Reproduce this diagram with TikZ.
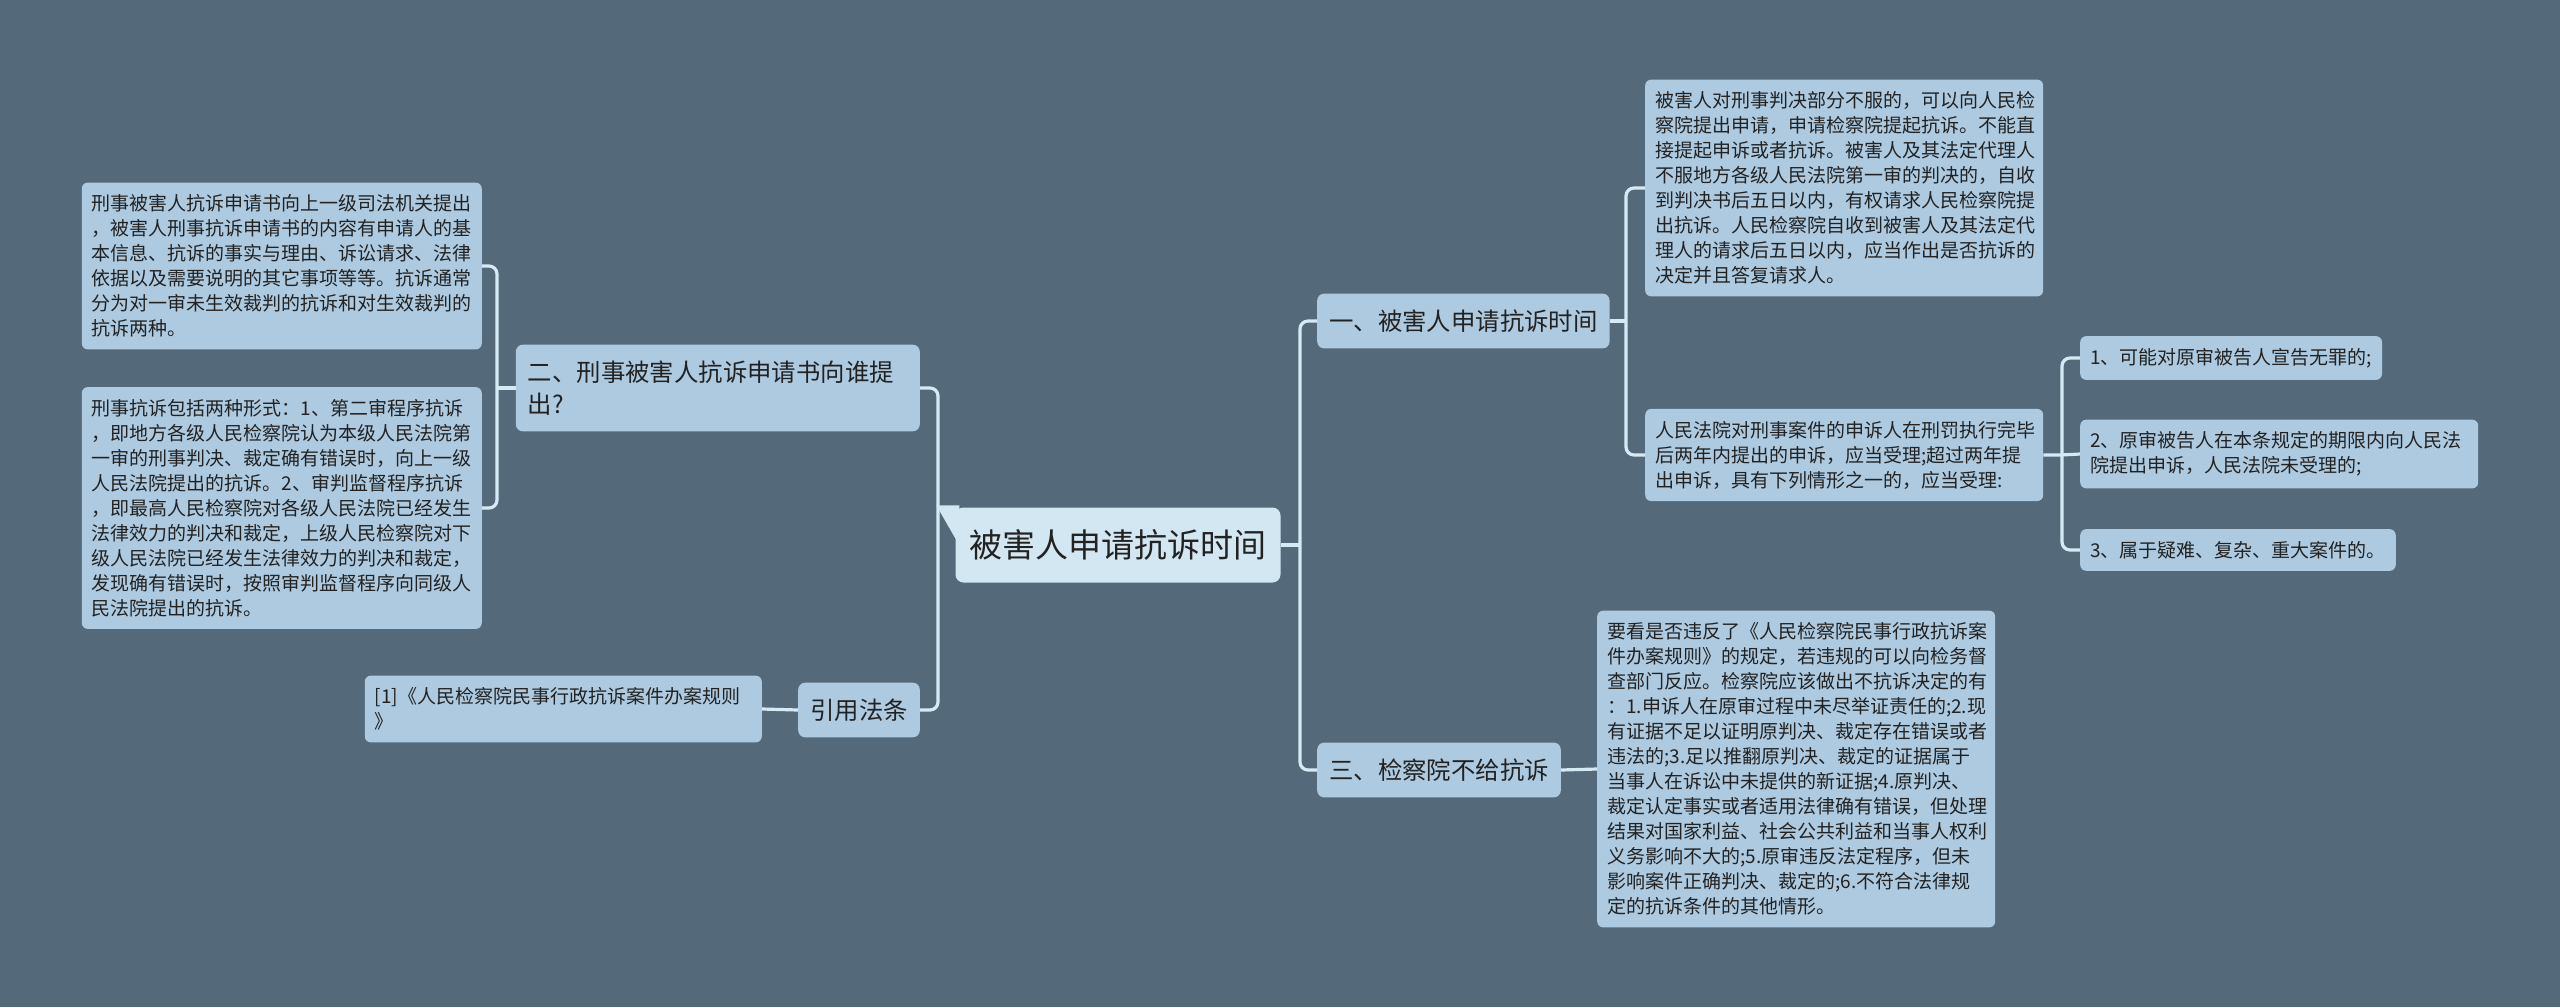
\documentclass[tikz,border=0pt]{standalone}
\usepackage{fontspec}
\setmainfont{Noto Sans CJK SC}
\usetikzlibrary{calc}
\definecolor{bgc}{HTML}{546979}
\definecolor{boxc}{HTML}{ADCAE1}
\definecolor{topc}{HTML}{D3E7F3}
\definecolor{linkc}{HTML}{D6EAF6}
\definecolor{inkc}{HTML}{222222}
\tikzset{
  topic/.style={fill=topc, text=inkc, rounded corners=8pt, inner xsep=14pt,
    minimum width=325pt, minimum height=75pt, font=\fontsize{33}{38}\selectfont},
  sub/.style={fill=boxc, text=inkc, rounded corners=7pt, inner xsep=12pt, inner ysep=16pt,
    align=left, font=\fontsize{24.4}{32}\selectfont},
  leaf/.style={fill=boxc, text=inkc, rounded corners=6pt, inner xsep=10pt, inner ysep=12pt,
    align=left, font=\fontsize{19}{25}\selectfont},
  link/.style={draw=linkc, line width=3.2pt, rounded corners=8pt},
}

\begin{document}
\begin{tikzpicture}[x=1pt, y=-1pt]
  \fill[bgc] (0,0) rectangle (2560,1007);
  \useasboundingbox (0,0) rectangle (2560,1007);

  \node[topic] (root) at (1118,545) {被害人申请抗诉时间};
  \fill[topc] ($(root.north west)+(-19,-2)$) -- ($(root.north west)+(4,-2)$)
    -- ($(root.north west)+(4,38)$) -- cycle;

  % right side
  \node[sub, anchor=west] (one) at (1317,321) {一、被害人申请抗诉时间};
  \node[sub, anchor=west] (three) at (1317,770) {三、检察院不给抗诉};
  \node[leaf, anchor=west, text width=378pt] (r1) at (1645,188) {%
    被害人对刑事判决部分不服的，可以向人民检\\
    察院提出申请，申请检察院提起抗诉。不能直\\
    接提起申诉或者抗诉。被害人及其法定代理人\\
    不服地方各级人民法院第一审的判决的，自收\\
    到判决书后五日以内，有权请求人民检察院提\\
    出抗诉。人民检察院自收到被害人及其法定代\\
    理人的请求后五日以内，应当作出是否抗诉的\\
    决定并且答复请求人。};
  \node[leaf, anchor=west, text width=378pt] (r2) at (1645,455) {%
    人民法院对刑事案件的申诉人在刑罚执行完毕\\
    后两年内提出的申诉，应当受理;超过两年提\\
    出申诉，具有下列情形之一的，应当受理:};
  \node[leaf, anchor=west] (i1) at (2080,358) {1、可能对原审被告人宣告无罪的;};
  \node[leaf, anchor=west, text width=378pt] (i2) at (2080,454) {%
    2、原审被告人在本条规定的期限内向人民法\\
    院提出申诉，人民法院未受理的;};
  \node[leaf, anchor=west] (i3) at (2080,550) {3、属于疑难、复杂、重大案件的。};
  \node[leaf, anchor=west, text width=378pt] (r3) at (1597,769) {%
    要看是否违反了《人民检察院民事行政抗诉案\\
    件办案规则》的规定，若违规的可以向检务督\\
    查部门反应。检察院应该做出不抗诉决定的有\\
    ：1.申诉人在原审过程中未尽举证责任的;2.现\\
    有证据不足以证明原判决、裁定存在错误或者\\
    违法的;3.足以推翻原判决、裁定的证据属于\\
    当事人在诉讼中未提供的新证据;4.原判决、\\
    裁定认定事实或者适用法律确有错误，但处理\\
    结果对国家利益、社会公共利益和当事人权利\\
    义务影响不大的;5.原审违反法定程序，但未\\
    影响案件正确判决、裁定的;6.不符合法律规\\
    定的抗诉条件的其他情形。};

  % left side
  \node[sub, anchor=east, text width=380pt] (two) at (920,388) {%
    二、刑事被害人抗诉申请书向谁提\\出?};
  \node[sub, anchor=east] (cite) at (920,710) {引用法条};
  \node[leaf, anchor=east, text width=380pt] (l1) at (482,266) {%
    刑事被害人抗诉申请书向上一级司法机关提出\\
    ，被害人刑事抗诉申请书的内容有申请人的基\\
    本信息、抗诉的事实与理由、诉讼请求、法律\\
    依据以及需要说明的其它事项等等。抗诉通常\\
    分为对一审未生效裁判的抗诉和对生效裁判的\\
    抗诉两种。};
  \node[leaf, anchor=east, text width=380pt] (l2) at (482,508) {%
    刑事抗诉包括两种形式：1、第二审程序抗诉\\
    ，即地方各级人民检察院认为本级人民法院第\\
    一审的刑事判决、裁定确有错误时，向上一级\\
    人民法院提出的抗诉。2、审判监督程序抗诉\\
    ，即最高人民检察院对各级人民法院已经发生\\
    法律效力的判决和裁定，上级人民检察院对下\\
    级人民法院已经发生法律效力的判决和裁定，\\
    发现确有错误时，按照审判监督程序向同级人\\
    民法院提出的抗诉。};
  \node[leaf, anchor=east, text width=377pt] (ref) at (762,709) {%
    [1]《人民检察院民事行政抗诉案件办案规则\\》};

  \coordinate (rt) at (1300,545);
  \coordinate (lt) at (938,545);
  \coordinate (t1) at (1626,321);
  \coordinate (t2) at (2062,455);
  \coordinate (t3) at (497,388);

  \draw[link] (root.east) -- (rt);
  \draw[link] (one.west) -| (rt) |- (three.west);
  \draw[link] (one.east) -- (t1);
  \draw[link] (r1.west) -| (t1) |- (r2.west);
  \draw[link] (r2.east) -- (t2) -- (i2.west);
  \draw[link] (i1.west) -| (t2) |- (i3.west);
  \draw[link] (three.east) -- (r3.west);
  \draw[link] (two.east) -| (lt) |- (cite.east);
  \draw[link] (two.west) -- (t3);
  \draw[link] (l1.east) -| (t3) |- (l2.east);
  \draw[link] (cite.west) -- (ref.east);
\end{tikzpicture}
\end{document}
